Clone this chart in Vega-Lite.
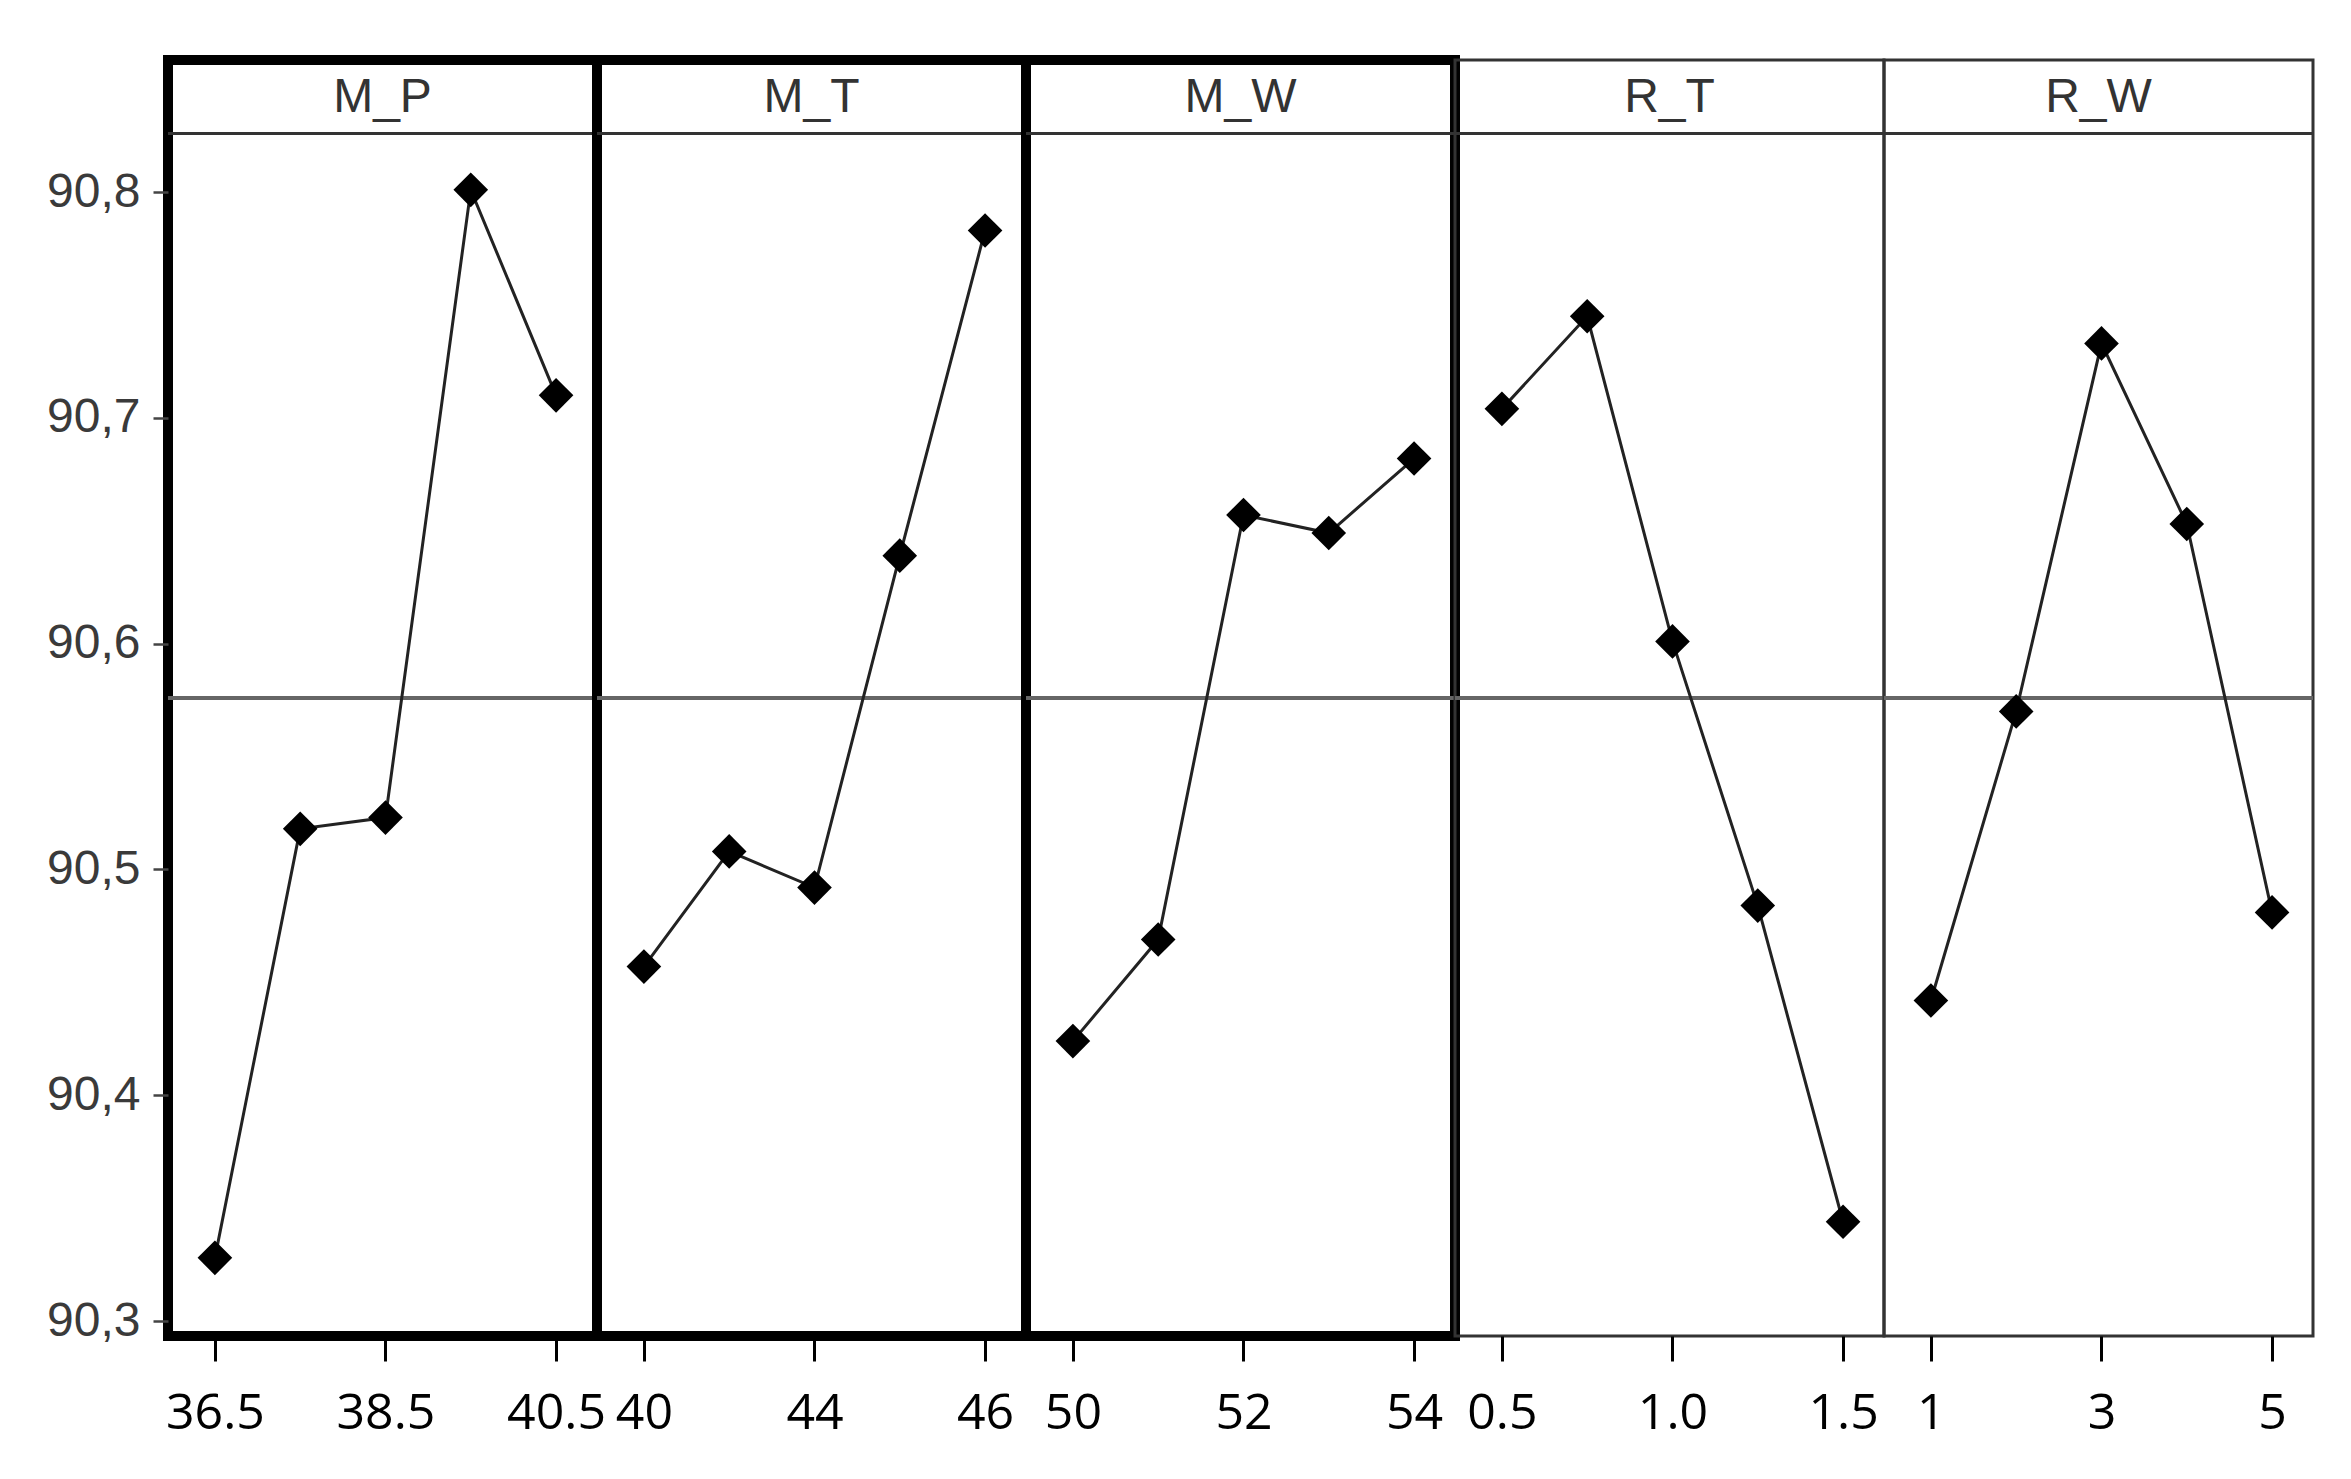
{
  "$schema": "https://vega.github.io/schema/vega-lite/v6.json",
  "background": "white",
  "padding": {"left": 41, "top": 55, "right": 20, "bottom": 10},
  "bounds": "flush",
  "spacing": 0,
  "data": {"values": [
    {"factor": "M_P", "idx": 1, "mean": 90.328},
    {"factor": "M_P", "idx": 2, "mean": 90.518},
    {"factor": "M_P", "idx": 3, "mean": 90.523},
    {"factor": "M_P", "idx": 4, "mean": 90.801},
    {"factor": "M_P", "idx": 5, "mean": 90.710},
    {"factor": "M_T", "idx": 1, "mean": 90.457},
    {"factor": "M_T", "idx": 2, "mean": 90.508},
    {"factor": "M_T", "idx": 3, "mean": 90.492},
    {"factor": "M_T", "idx": 4, "mean": 90.639},
    {"factor": "M_T", "idx": 5, "mean": 90.783},
    {"factor": "M_W", "idx": 1, "mean": 90.424},
    {"factor": "M_W", "idx": 2, "mean": 90.469},
    {"factor": "M_W", "idx": 3, "mean": 90.657},
    {"factor": "M_W", "idx": 4, "mean": 90.649},
    {"factor": "M_W", "idx": 5, "mean": 90.682},
    {"factor": "R_T", "idx": 1, "mean": 90.704},
    {"factor": "R_T", "idx": 2, "mean": 90.745},
    {"factor": "R_T", "idx": 3, "mean": 90.601},
    {"factor": "R_T", "idx": 4, "mean": 90.484},
    {"factor": "R_T", "idx": 5, "mean": 90.344},
    {"factor": "R_W", "idx": 1, "mean": 90.442},
    {"factor": "R_W", "idx": 2, "mean": 90.570},
    {"factor": "R_W", "idx": 3, "mean": 90.733},
    {"factor": "R_W", "idx": 4, "mean": 90.653},
    {"factor": "R_W", "idx": 5, "mean": 90.481}
  ]},
  "config": {
    "axisX": {"grid": false, "domain": false, "tickSize": 25, "tickWidth": 3, "tickColor": "#000", "labelFont": "Open Sans", "labelFontSize": 50, "labelColor": "#000", "labelPadding": 27, "title": null, "labelFlush": false, "labelOverlap": false},
    "axisY": {"grid": false, "domain": false, "tickSize": 15, "tickWidth": 2.5, "tickColor": "#444", "labelFont": "Liberation Sans", "labelFontSize": 48, "labelColor": "#3a3a3a", "labelPadding": 13, "title": null}
  },
  "hconcat": [
    {
      "width": 429, "height": 1276,
      "view": {"stroke": "#000", "strokeWidth": 10},
      "transform": [{"filter": "datum.factor == 'M_P'"}],
      "layer": [
        {"mark": {"type": "rule", "color": "#333", "strokeWidth": 3}, "encoding": {"y": {"datum": 90.8259, "type": "quantitative", "scale": {"domain": [90.2934, 90.8585], "nice": false, "zero": false}, "axis": {"values": [90.3, 90.4, 90.5, 90.6, 90.7, 90.8], "labelExpr": "replace(format(datum.value, '.1f'), '.', ',')"}}}},
        {"mark": {"type": "rule", "color": "#666", "strokeWidth": 3.5}, "encoding": {"y": {"datum": 90.576, "type": "quantitative", "scale": {"domain": [90.2934, 90.8585], "nice": false, "zero": false}, "axis": {"values": [90.3, 90.4, 90.5, 90.6, 90.7, 90.8], "labelExpr": "replace(format(datum.value, '.1f'), '.', ',')"}}}},
        {"transform": [{"filter": "datum.idx == 3"}], "mark": {"type": "text", "font": "Liberation Sans", "fontSize": 48, "color": "#333", "baseline": "middle", "align": "center"}, "encoding": {"x": {"datum": 2.965, "type": "quantitative", "scale": {"domain": [0.45, 5.48], "nice": false, "zero": false}, "axis": {"values": [1, 3, 5], "labelExpr": "datum.value == 1 ? '36.5' : datum.value == 3 ? '38.5' : '40.5'"}}, "y": {"datum": 90.8418, "type": "quantitative", "scale": {"domain": [90.2934, 90.8585], "nice": false, "zero": false}, "axis": {"values": [90.3, 90.4, 90.5, 90.6, 90.7, 90.8], "labelExpr": "replace(format(datum.value, '.1f'), '.', ',')"}}, "text": {"field": "factor"}}},
        {"mark": {"type": "line", "color": "#222", "strokeWidth": 3}, "encoding": {"x": {"field": "idx", "type": "quantitative", "scale": {"domain": [0.45, 5.48], "nice": false, "zero": false}, "axis": {"values": [1, 3, 5], "labelExpr": "datum.value == 1 ? '36.5' : datum.value == 3 ? '38.5' : '40.5'"}}, "y": {"field": "mean", "type": "quantitative", "scale": {"domain": [90.2934, 90.8585], "nice": false, "zero": false}, "axis": {"values": [90.3, 90.4, 90.5, 90.6, 90.7, 90.8], "labelExpr": "replace(format(datum.value, '.1f'), '.', ',')"}}}},
        {"mark": {"type": "point", "shape": "diamond", "filled": true, "color": "#000", "opacity": 1, "size": 1200}, "encoding": {"x": {"field": "idx", "type": "quantitative", "scale": {"domain": [0.45, 5.48], "nice": false, "zero": false}, "axis": {"values": [1, 3, 5], "labelExpr": "datum.value == 1 ? '36.5' : datum.value == 3 ? '38.5' : '40.5'"}}, "y": {"field": "mean", "type": "quantitative", "scale": {"domain": [90.2934, 90.8585], "nice": false, "zero": false}, "axis": {"values": [90.3, 90.4, 90.5, 90.6, 90.7, 90.8], "labelExpr": "replace(format(datum.value, '.1f'), '.', ',')"}}}}
      ]
    },
    {
      "width": 429, "height": 1276,
      "view": {"stroke": "#000", "strokeWidth": 10},
      "transform": [{"filter": "datum.factor == 'M_T'"}],
      "layer": [
        {"mark": {"type": "rule", "color": "#333", "strokeWidth": 3}, "encoding": {"y": {"datum": 90.8259, "type": "quantitative", "scale": {"domain": [90.2934, 90.8585], "nice": false, "zero": false}, "axis": null}}},
        {"mark": {"type": "rule", "color": "#666", "strokeWidth": 3.5}, "encoding": {"y": {"datum": 90.576, "type": "quantitative", "scale": {"domain": [90.2934, 90.8585], "nice": false, "zero": false}, "axis": null}}},
        {"transform": [{"filter": "datum.idx == 3"}], "mark": {"type": "text", "font": "Liberation Sans", "fontSize": 48, "color": "#333", "baseline": "middle", "align": "center"}, "encoding": {"x": {"datum": 2.965, "type": "quantitative", "scale": {"domain": [0.45, 5.48], "nice": false, "zero": false}, "axis": {"values": [1, 3, 5], "labelExpr": "datum.value == 1 ? '40' : datum.value == 3 ? '44' : '46'"}}, "y": {"datum": 90.8418, "type": "quantitative", "scale": {"domain": [90.2934, 90.8585], "nice": false, "zero": false}, "axis": null}, "text": {"field": "factor"}}},
        {"mark": {"type": "line", "color": "#222", "strokeWidth": 3}, "encoding": {"x": {"field": "idx", "type": "quantitative", "scale": {"domain": [0.45, 5.48], "nice": false, "zero": false}, "axis": {"values": [1, 3, 5], "labelExpr": "datum.value == 1 ? '40' : datum.value == 3 ? '44' : '46'"}}, "y": {"field": "mean", "type": "quantitative", "scale": {"domain": [90.2934, 90.8585], "nice": false, "zero": false}, "axis": null}}},
        {"mark": {"type": "point", "shape": "diamond", "filled": true, "color": "#000", "opacity": 1, "size": 1200}, "encoding": {"x": {"field": "idx", "type": "quantitative", "scale": {"domain": [0.45, 5.48], "nice": false, "zero": false}, "axis": {"values": [1, 3, 5], "labelExpr": "datum.value == 1 ? '40' : datum.value == 3 ? '44' : '46'"}}, "y": {"field": "mean", "type": "quantitative", "scale": {"domain": [90.2934, 90.8585], "nice": false, "zero": false}, "axis": null}}}
      ]
    },
    {
      "width": 429, "height": 1276,
      "view": {"stroke": "#000", "strokeWidth": 10},
      "transform": [{"filter": "datum.factor == 'M_W'"}],
      "layer": [
        {"mark": {"type": "rule", "color": "#333", "strokeWidth": 3}, "encoding": {"y": {"datum": 90.8259, "type": "quantitative", "scale": {"domain": [90.2934, 90.8585], "nice": false, "zero": false}, "axis": null}}},
        {"mark": {"type": "rule", "color": "#666", "strokeWidth": 3.5}, "encoding": {"y": {"datum": 90.576, "type": "quantitative", "scale": {"domain": [90.2934, 90.8585], "nice": false, "zero": false}, "axis": null}}},
        {"transform": [{"filter": "datum.idx == 3"}], "mark": {"type": "text", "font": "Liberation Sans", "fontSize": 48, "color": "#333", "baseline": "middle", "align": "center"}, "encoding": {"x": {"datum": 2.965, "type": "quantitative", "scale": {"domain": [0.45, 5.48], "nice": false, "zero": false}, "axis": {"values": [1, 3, 5], "labelExpr": "datum.value == 1 ? '50' : datum.value == 3 ? '52' : '54'"}}, "y": {"datum": 90.8418, "type": "quantitative", "scale": {"domain": [90.2934, 90.8585], "nice": false, "zero": false}, "axis": null}, "text": {"field": "factor"}}},
        {"mark": {"type": "line", "color": "#222", "strokeWidth": 3}, "encoding": {"x": {"field": "idx", "type": "quantitative", "scale": {"domain": [0.45, 5.48], "nice": false, "zero": false}, "axis": {"values": [1, 3, 5], "labelExpr": "datum.value == 1 ? '50' : datum.value == 3 ? '52' : '54'"}}, "y": {"field": "mean", "type": "quantitative", "scale": {"domain": [90.2934, 90.8585], "nice": false, "zero": false}, "axis": null}}},
        {"mark": {"type": "point", "shape": "diamond", "filled": true, "color": "#000", "opacity": 1, "size": 1200}, "encoding": {"x": {"field": "idx", "type": "quantitative", "scale": {"domain": [0.45, 5.48], "nice": false, "zero": false}, "axis": {"values": [1, 3, 5], "labelExpr": "datum.value == 1 ? '50' : datum.value == 3 ? '52' : '54'"}}, "y": {"field": "mean", "type": "quantitative", "scale": {"domain": [90.2934, 90.8585], "nice": false, "zero": false}, "axis": null}}}
      ]
    },
    {
      "width": 429, "height": 1276,
      "view": {"stroke": "#333", "strokeWidth": 3},
      "transform": [{"filter": "datum.factor == 'R_T'"}],
      "layer": [
        {"mark": {"type": "rule", "color": "#333", "strokeWidth": 3}, "encoding": {"y": {"datum": 90.8259, "type": "quantitative", "scale": {"domain": [90.2934, 90.8585], "nice": false, "zero": false}, "axis": null}}},
        {"mark": {"type": "rule", "color": "#666", "strokeWidth": 3.5}, "encoding": {"y": {"datum": 90.576, "type": "quantitative", "scale": {"domain": [90.2934, 90.8585], "nice": false, "zero": false}, "axis": null}}},
        {"transform": [{"filter": "datum.idx == 3"}], "mark": {"type": "text", "font": "Liberation Sans", "fontSize": 48, "color": "#333", "baseline": "middle", "align": "center"}, "encoding": {"x": {"datum": 2.965, "type": "quantitative", "scale": {"domain": [0.45, 5.48], "nice": false, "zero": false}, "axis": {"values": [1, 3, 5], "labelExpr": "datum.value == 1 ? '0.5' : datum.value == 3 ? '1.0' : '1.5'"}}, "y": {"datum": 90.8418, "type": "quantitative", "scale": {"domain": [90.2934, 90.8585], "nice": false, "zero": false}, "axis": null}, "text": {"field": "factor"}}},
        {"mark": {"type": "line", "color": "#222", "strokeWidth": 3}, "encoding": {"x": {"field": "idx", "type": "quantitative", "scale": {"domain": [0.45, 5.48], "nice": false, "zero": false}, "axis": {"values": [1, 3, 5], "labelExpr": "datum.value == 1 ? '0.5' : datum.value == 3 ? '1.0' : '1.5'"}}, "y": {"field": "mean", "type": "quantitative", "scale": {"domain": [90.2934, 90.8585], "nice": false, "zero": false}, "axis": null}}},
        {"mark": {"type": "point", "shape": "diamond", "filled": true, "color": "#000", "opacity": 1, "size": 1200}, "encoding": {"x": {"field": "idx", "type": "quantitative", "scale": {"domain": [0.45, 5.48], "nice": false, "zero": false}, "axis": {"values": [1, 3, 5], "labelExpr": "datum.value == 1 ? '0.5' : datum.value == 3 ? '1.0' : '1.5'"}}, "y": {"field": "mean", "type": "quantitative", "scale": {"domain": [90.2934, 90.8585], "nice": false, "zero": false}, "axis": null}}}
      ]
    },
    {
      "width": 429, "height": 1276,
      "view": {"stroke": "#333", "strokeWidth": 3},
      "transform": [{"filter": "datum.factor == 'R_W'"}],
      "layer": [
        {"mark": {"type": "rule", "color": "#333", "strokeWidth": 3}, "encoding": {"y": {"datum": 90.8259, "type": "quantitative", "scale": {"domain": [90.2934, 90.8585], "nice": false, "zero": false}, "axis": null}}},
        {"mark": {"type": "rule", "color": "#666", "strokeWidth": 3.5}, "encoding": {"y": {"datum": 90.576, "type": "quantitative", "scale": {"domain": [90.2934, 90.8585], "nice": false, "zero": false}, "axis": null}}},
        {"transform": [{"filter": "datum.idx == 3"}], "mark": {"type": "text", "font": "Liberation Sans", "fontSize": 48, "color": "#333", "baseline": "middle", "align": "center"}, "encoding": {"x": {"datum": 2.965, "type": "quantitative", "scale": {"domain": [0.45, 5.48], "nice": false, "zero": false}, "axis": {"values": [1, 3, 5], "labelExpr": "datum.value == 1 ? '1' : datum.value == 3 ? '3' : '5'"}}, "y": {"datum": 90.8418, "type": "quantitative", "scale": {"domain": [90.2934, 90.8585], "nice": false, "zero": false}, "axis": null}, "text": {"field": "factor"}}},
        {"mark": {"type": "line", "color": "#222", "strokeWidth": 3}, "encoding": {"x": {"field": "idx", "type": "quantitative", "scale": {"domain": [0.45, 5.48], "nice": false, "zero": false}, "axis": {"values": [1, 3, 5], "labelExpr": "datum.value == 1 ? '1' : datum.value == 3 ? '3' : '5'"}}, "y": {"field": "mean", "type": "quantitative", "scale": {"domain": [90.2934, 90.8585], "nice": false, "zero": false}, "axis": null}}},
        {"mark": {"type": "point", "shape": "diamond", "filled": true, "color": "#000", "opacity": 1, "size": 1200}, "encoding": {"x": {"field": "idx", "type": "quantitative", "scale": {"domain": [0.45, 5.48], "nice": false, "zero": false}, "axis": {"values": [1, 3, 5], "labelExpr": "datum.value == 1 ? '1' : datum.value == 3 ? '3' : '5'"}}, "y": {"field": "mean", "type": "quantitative", "scale": {"domain": [90.2934, 90.8585], "nice": false, "zero": false}, "axis": null}}}
      ]
    }
  ]
}
